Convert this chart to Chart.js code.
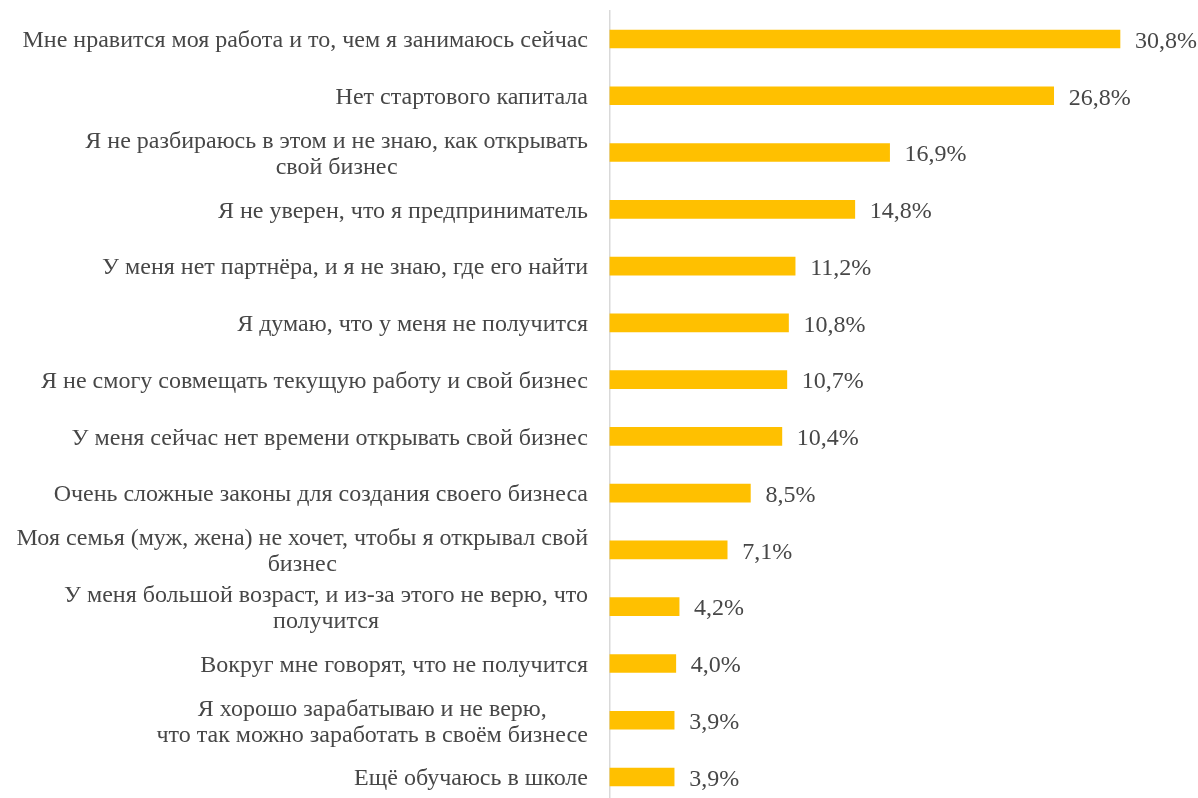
<!DOCTYPE html>
<html lang="ru">
<head>
<meta charset="utf-8">
<title>Причины не открывать свой бизнес</title>
<script src="https://cdn.jsdelivr.net/npm/chart.js@4.4.1/dist/chart.umd.min.js"></script>
<style>
  html, body { margin:0; padding:0; background:#fff; overflow:hidden; }
  #wrap { position:relative; width:1198px; height:810px; }
</style>
</head>
<body>
<div id="wrap"><canvas id="reasonsChart"></canvas></div>
<script>
'use strict';

// причины (многострочные подписи — массивами строк)
const reasons = [
    'Мне нравится моя работа и то, чем я занимаюсь сейчас',
    'Нет стартового капитала',
    ['Я не разбираюсь в этом и не знаю, как открывать', 'свой бизнес'],
    'Я не уверен, что я предприниматель',
    'У меня нет партнёра, и я не знаю, где его найти',
    'Я думаю, что у меня не получится',
    'Я не смогу совмещать текущую работу и свой бизнес',
    'У меня сейчас нет времени открывать свой бизнес',
    'Очень сложные законы для создания своего бизнеса',
    ['Моя семья (муж, жена) не хочет, чтобы я открывал свой', 'бизнес'],
    ['У меня большой возраст, и из-за этого не верю, что', 'получится'],
    'Вокруг мне говорят, что не получится',
    ['Я хорошо зарабатываю и не верю,', 'что так можно заработать в своём бизнесе'],
    'Ещё обучаюсь в школе'
];
const shares = [30.8, 26.8, 16.9, 14.8, 11.2, 10.8, 10.7, 10.4, 8.5, 7.1, 4.2, 4.0, 3.9, 3.9];

const FONT = '24px "Liberation Serif", "Times New Roman", serif';
const TXT = '#474747';
const fmt = v => v.toFixed(1).replace('.', ',') + '%';

// подписи категорий: блок выровнен вправо, строки внутри по центру
const categoryLabels = {
    id:'categoryLabels',
    afterDraw(chart){
        const { ctx, chartArea } = chart;
        const y = chart.scales.y;
        const right = chartArea.left - 21.5;
        const lh = 26;
        ctx.save();
        ctx.font = FONT; ctx.fillStyle = TXT;
        ctx.textAlign = 'center'; ctx.textBaseline = 'middle';
        reasons.forEach((r, i) => {
            const lines = Array.isArray(r) ? r : [r];
            const w = Math.max(...lines.map(l => ctx.measureText(l).width));
            const cx = right - w / 2;
            const cy = y.getPixelForValue(i) + 2;
            lines.forEach((l, k) => ctx.fillText(l, cx, cy + (k - (lines.length - 1) / 2) * lh));
        });
        ctx.restore();
    }
};

// значения справа от столбцов
const valueLabels = {
    id:'valueLabels',
    afterDatasetsDraw(chart){
        const { ctx } = chart;
        const meta = chart.getDatasetMeta(0);
        ctx.save();
        ctx.font = FONT; ctx.fillStyle = TXT;
        ctx.textAlign = 'left'; ctx.textBaseline = 'middle';
        meta.data.forEach((bar, i) => ctx.fillText(fmt(shares[i]), bar.x + 15, bar.y + 2.5));
        ctx.restore();
    }
};

new Chart(document.getElementById('reasonsChart').getContext('2d'), {
    type:'bar',
    data:{
        labels: reasons,
        datasets:[{ data: shares, backgroundColor:'#ffc000', borderWidth:0, barThickness:18 }]
    },
    options:{
        indexAxis:'y', responsive:true, maintainAspectRatio:false, animation:false,
        layout:{ padding:{ top:10.6, bottom:4.6, left:0, right:8.4 } },
        plugins:{ legend:{ display:false }, tooltip:{ enabled:false } },
        scales:{
            x:{ display:false, min:0, max:35 },
            y:{
                grid:{ display:false },
                border:{ display:true, color:'#d9d9d9', width:1.5 },
                ticks:{ display:false },
                afterFit(scale){ scale.width = 609.5; }
            }
        }
    },
    plugins:[categoryLabels, valueLabels]
});
</script>
</body>
</html>
